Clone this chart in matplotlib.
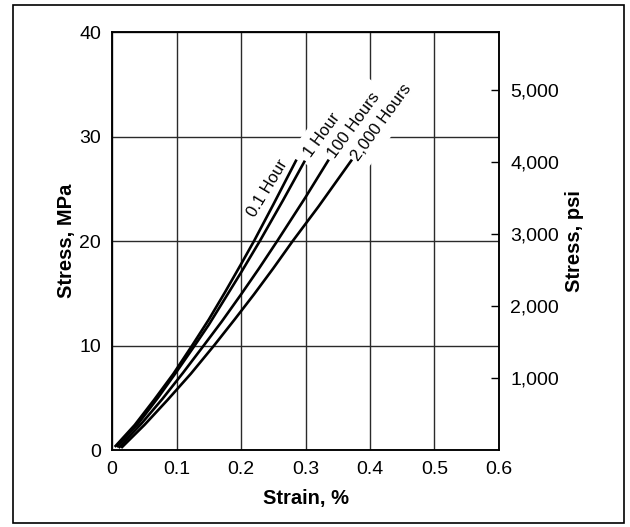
import matplotlib
matplotlib.use("Agg")
import matplotlib.pyplot as plt
from matplotlib.ticker import FuncFormatter
from matplotlib.patches import Rectangle

plt.rcParams["font.family"] = ["Liberation Sans", "DejaVu Sans"]

# Isochronous stress-strain curves (strain in %, stress in MPa)
strain_01h = [0.004, 0.035, 0.065, 0.095, 0.124, 0.150, 0.175, 0.200, 0.220, 0.250, 0.286]
stress_01h = [0.3, 2.4, 4.8, 7.3, 10.0, 12.5, 15.1, 17.8, 20.0, 23.5, 27.8]

strain_1h = [0.007, 0.040, 0.071, 0.100, 0.128, 0.150, 0.175, 0.200, 0.229, 0.265, 0.299]
stress_1h = [0.3, 2.5, 5.0, 7.5, 10.0, 12.0, 14.5, 17.0, 20.0, 23.9, 27.7]

strain_100h = [0.010, 0.045, 0.078, 0.110, 0.142, 0.170, 0.200, 0.228, 0.256, 0.300, 0.336]
stress_100h = [0.2, 2.5, 4.9, 7.4, 10.0, 12.3, 14.9, 17.4, 20.0, 24.2, 27.8]

strain_2000h = [0.014, 0.050, 0.086, 0.122, 0.158, 0.190, 0.220, 0.250, 0.280, 0.320, 0.372]
stress_2000h = [0.2, 2.4, 4.8, 7.3, 10.0, 12.5, 14.9, 17.4, 20.0, 23.3, 27.8]

curve_labels = ["0.1 Hour", "1 Hour", "100 Hours", "2,000 Hours"]

x_ticks = [0, 0.1, 0.2, 0.3, 0.4, 0.5, 0.6]
x_tick_labels = ["0", "0.1", "0.2", "0.3", "0.4", "0.5", "0.6"]
mpa_ticks = [0, 10, 20, 30, 40]
psi_ticks = [1000, 2000, 3000, 4000, 5000]

PSI_PER_MPA = 145.038

fig = plt.figure(figsize=(6.3, 5.27), dpi=100)
ax = fig.add_axes([0.178, 0.146, 0.614, 0.793])
ax.set_xlim(0, 0.6)
ax.set_ylim(0, 40)
ax.set_xticks(x_ticks)
ax.set_xticklabels(x_tick_labels)
ax.set_yticks(mpa_ticks)
ax.grid(True, color="#2a2a2a", lw=1.0, zorder=1)
ax.set_axisbelow(True)
ax.tick_params(length=0, labelsize=14, pad=8)
for sp in ax.spines.values():
    sp.set_linewidth(1.1)

ax2 = ax.twinx()
ax2.set_ylim(0, 40 * PSI_PER_MPA)
ax2.set_yticks(psi_ticks)
ax2.yaxis.set_major_formatter(FuncFormatter(lambda v, p: f"{int(v):,}"))
ax2.tick_params(direction="in", length=6, width=1.0, labelsize=14, pad=8)
for sp in ax2.spines.values():
    sp.set_linewidth(1.1)

series = [
    (strain_01h, stress_01h),
    (strain_1h, stress_1h),
    (strain_100h, stress_100h),
    (strain_2000h, stress_2000h),
]
for sx, sy in series:
    ax.plot(sx, sy, color="black", lw=1.9, solid_capstyle="butt",
            solid_joinstyle="round", zorder=5)

box = dict(boxstyle="square,pad=0.5", fc="white", ec="none")
# label along the left side of the 0.1 Hour curve
ax.annotate(curve_labels[0], xy=(strain_01h[-1], stress_01h[-1]),
            xytext=(-4, -4), textcoords="offset points",
            rotation=59, rotation_mode="anchor", ha="right", va="bottom",
            fontsize=12, zorder=4)
# labels beyond the ends of the other curves
for (sx, sy), lab, off in zip(series[1:], curve_labels[1:],
                              [(2, 4), (2, 2), (2, 0)]):
    ax.annotate(lab, xy=(sx[-1], sy[-1]), xytext=off, textcoords="offset points",
                rotation=54, rotation_mode="anchor", ha="left", va="center",
                fontsize=12, bbox=box, zorder=4)

ax.set_xlabel("Strain, %", fontsize=14.5, fontweight="bold", va="center")
ax.xaxis.set_label_coords(0.5, -0.117)
ax.set_ylabel("Stress, MPa", fontsize=14.5, fontweight="bold", va="center")
ax.yaxis.set_label_coords(-0.117, 0.5)
ax2.set_ylabel("Stress, psi", fontsize=14.5, fontweight="bold", va="center", rotation=90)
ax2.yaxis.set_label_coords(1.196, 0.5)

fig.patches.append(Rectangle((0.021, 0.008), 0.969, 0.982, transform=fig.transFigure,
                             fill=False, lw=1.2, ec="black"))

fig.savefig("out.png", dpi=100, facecolor="white")
